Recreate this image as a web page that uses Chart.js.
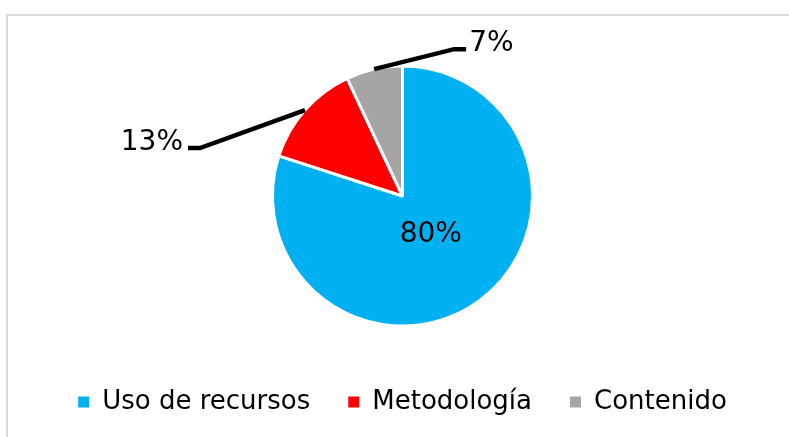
<!DOCTYPE html>
<html>
<head>
<meta charset="utf-8">
<script src="https://cdn.jsdelivr.net/npm/chart.js@4.4.1/dist/chart.umd.min.js"></script>
<style>
  html, body { margin: 0; padding: 0; background: #fff; overflow: hidden; }
  #frame {
    position: absolute; left: 6px; top: 14px; width: 900px; height: 600px;
    border-top: 2px solid #d9d9d9; border-left: 2px solid #d9d9d9;
  }
  #wrap { position: absolute; left: 0; top: 0; width: 789px; height: 437px; }
</style>
</head>
<body>
<div id="frame"></div>
<div id="wrap"><canvas id="pieChart" width="789" height="437"></canvas></div>
<script>
// Data
const categories = ['Uso de recursos', 'Metodología', 'Contenido'];
const percentages = [80, 13, 7];
const sliceColors = ['#00B0F0', '#FF0000', '#A5A5A5'];

// Labels: first one inside the slice, the others with a leader line outside
const leaderPlugin = {
    id: 'leaderLabels',
    afterDatasetsDraw(chart) {
        const ctx = chart.ctx;
        const meta = chart.getDatasetMeta(0);
        ctx.save();
        ctx.fillStyle = '#000';
        ctx.strokeStyle = '#000';
        ctx.font = '28px "DejaVu Sans"';
        ctx.lineWidth = 4.5;
        meta.data.forEach((arc, i) => {
            const p = arc.getProps(['x', 'y', 'startAngle', 'endAngle', 'outerRadius'], true);
            const mid = (p.startAngle + p.endAngle) / 2;
            const text = percentages[i] + '%';
            if (i === 0) {
                const r = p.outerRadius * 0.37;
                ctx.textAlign = 'center';
                ctx.textBaseline = 'middle';
                ctx.fillText(text, p.x + Math.cos(mid) * r, p.y + Math.sin(mid) * r);
                return;
            }
            const sx = p.x + Math.cos(mid) * p.outerRadius;
            const sy = p.y + Math.sin(mid) * p.outerRadius;
            const right = Math.cos(mid) > -0.5;
            const ex = right ? sx + 80 : sx - 105;
            const ey = right ? sy - 20 : sy + 38;
            const hx = right ? ex + 12 : ex - 12;
            ctx.beginPath();
            ctx.moveTo(sx, sy);
            ctx.lineTo(ex, ey);
            ctx.lineTo(hx, ey);
            ctx.stroke();
            ctx.textBaseline = 'alphabetic';
            ctx.textAlign = right ? 'left' : 'right';
            ctx.fillText(text, right ? hx + 3 : hx - 5, ey + 2);
        });
        ctx.restore();
    }
};

new Chart(document.getElementById('pieChart').getContext('2d'), {
    type: 'pie',
    data: {
        labels: categories,
        datasets: [{
            data: percentages,
            backgroundColor: sliceColors,
            borderColor: '#ffffff',
            borderWidth: 3
        }]
    },
    options: {
        responsive: false,
        animation: false,
        radius: 130,
        layout: {
            padding: { top: 41, bottom: 12, left: 16, right: 0 }
        },
        plugins: {
            tooltip: { enabled: false },
            legend: {
                position: 'bottom',
                labels: {
                    color: '#000',
                    boxWidth: 11,
                    boxHeight: 11,
                    padding: 38,
                    font: { family: 'DejaVu Sans', size: 26 },
                    generateLabels(chart) {
                        const items = Chart.overrides.pie.plugins.legend.labels.generateLabels(chart);
                        items.forEach(item => { item.lineWidth = 0; });
                        return items;
                    }
                }
            }
        }
    },
    plugins: [leaderPlugin]
});
</script>
</body>
</html>
